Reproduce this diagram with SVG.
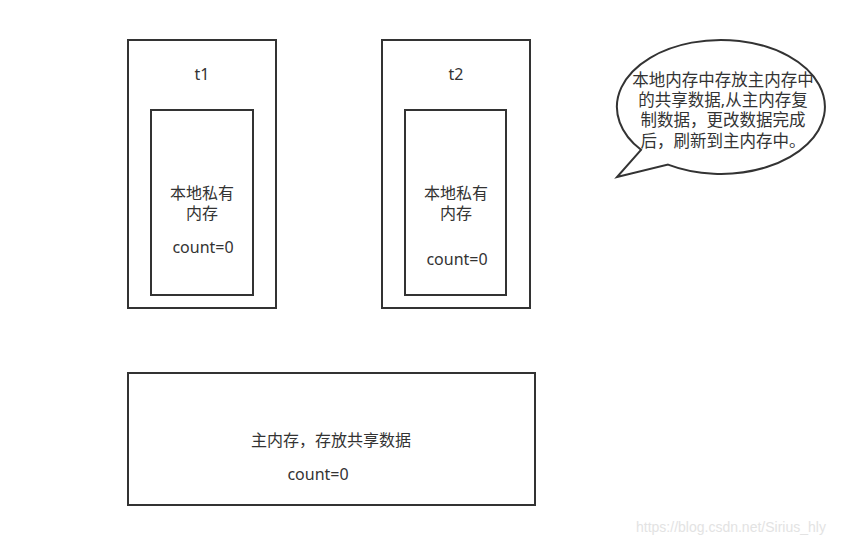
<svg xmlns="http://www.w3.org/2000/svg" width="861" height="544" viewBox="0 0 861 544">
<style>
.box{fill:#fff;stroke:#333;stroke-width:2}
.t{font-family:"Noto Sans","Noto Sans CJK SC",sans-serif;font-size:16px;fill:#333;text-anchor:middle}
.n{font-size:16.5px}
.wm{font-family:"Liberation Sans",Arial,sans-serif;font-size:14px;fill:#e3e3e3}
</style>
<rect x="0" y="0" width="861" height="544" fill="#fff"/>
<g id="t1">
<rect class="box" x="128" y="40" width="148" height="268"/>
<text class="t" x="202" y="80">t1</text>
<g id="t1-mem">
<rect class="box" x="151" y="110" width="102" height="185"/>
<text class="t" x="202" y="199">本地私有</text>
<text class="t" x="202" y="219">内存</text>
<text class="t" x="203" y="253">count=0</text>
</g>
</g>
<g id="t2">
<rect class="box" x="382" y="40" width="148" height="268"/>
<text class="t" x="456" y="80">t2</text>
<g id="t2-mem">
<rect class="box" x="405" y="110" width="101" height="185"/>
<text class="t" x="456" y="199">本地私有</text>
<text class="t" x="456" y="219">内存</text>
<text class="t" x="457" y="265">count=0</text>
</g>
</g>
<g id="main-memory">
<rect class="box" x="128" y="373" width="407" height="132"/>
<text class="t" x="331" y="446">主内存，存放共享数据</text>
<text class="t" x="318" y="480">count=0</text>
</g>
<g id="note">
<path class="box" d="M641,149.8 A104,67 0 1 1 668,164.6 L617,177 Z"/>
<text class="t n" x="723" y="86">本地内存中存放主内存中</text>
<text class="t n" x="723" y="106">的共享数据,从主内存复</text>
<text class="t n" x="723" y="126">制数据，更改数据完成</text>
<text class="t n" x="723" y="147">后，刷新到主内存中。</text>
</g>
<g id="connectors"></g>
<text class="wm" x="636" y="532">https://blog.csdn.net/Sirius_hly</text>
</svg>
